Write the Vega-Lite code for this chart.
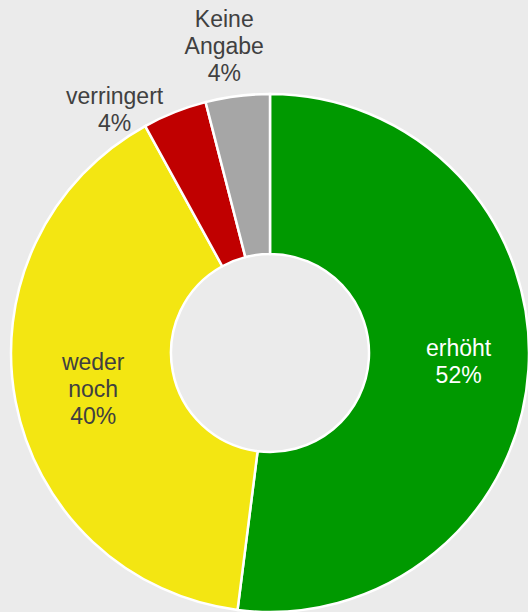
{
  "$schema": "https://vega.github.io/schema/vega-lite/v6.json",
  "width": 540,
  "height": 706,
  "autosize": {"type": "none"},
  "padding": {"left": 0, "top": 0, "right": -12, "bottom": -94},
  "background": "#ebebeb",
  "config": {"view": {"stroke": null}, "font": "Liberation Sans"},
  "data": {
    "values": [
      {"idx": 1, "category": "erhöht", "value": 52, "label": "erhöht\n52%"},
      {"idx": 2, "category": "weder noch", "value": 40, "label": "weder\nnoch\n40%"},
      {"idx": 3, "category": "verringert", "value": 4, "label": "verringert\n4%"},
      {"idx": 4, "category": "Keine Angabe", "value": 4, "label": "Keine\nAngabe\n4%"}
    ]
  },
  "encoding": {
    "theta": {"field": "value", "type": "quantitative", "stack": true},
    "order": {"field": "idx", "type": "quantitative"}
  },
  "layer": [
    {
      "mark": {"type": "arc", "radius": 259, "radius2": 99, "stroke": "white", "strokeWidth": 2.5},
      "encoding": {
        "color": {
          "field": "category",
          "type": "nominal",
          "scale": {"domain": ["erhöht", "weder noch", "verringert", "Keine Angabe"], "range": ["#009900", "#f3e612", "#c00000", "#a6a6a6"]},
          "legend": null
        }
      }
    },
    {
      "mark": {"type": "text", "radius": 186, "dx": 3, "dy": -16, "fontSize": 23, "lineHeight": 27, "lineBreak": "\n", "fill": "white", "align": "center", "baseline": "middle"},
      "encoding": {"text": {"condition": {"test": "datum.idx == 1", "field": "label"}, "value": ""}}
    },
    {
      "mark": {"type": "text", "radius": 181, "dx": 1, "dy": -24, "fontSize": 23, "lineHeight": 27, "lineBreak": "\n", "fill": "#404040", "align": "center", "baseline": "middle"},
      "encoding": {"text": {"condition": {"test": "datum.idx == 2", "field": "label"}, "value": ""}}
    },
    {
      "mark": {"type": "text", "radius": 289, "dx": -49, "dy": 13, "fontSize": 23, "lineHeight": 27, "lineBreak": "\n", "fill": "#404040", "align": "center", "baseline": "middle"},
      "encoding": {"text": {"condition": {"test": "datum.idx == 3", "field": "label"}, "value": ""}}
    },
    {
      "mark": {"type": "text", "radius": 309, "dx": -7, "dy": -26, "fontSize": 23, "lineHeight": 27, "lineBreak": "\n", "fill": "#404040", "align": "center", "baseline": "middle"},
      "encoding": {"text": {"condition": {"test": "datum.idx == 4", "field": "label"}, "value": ""}}
    }
  ]
}
